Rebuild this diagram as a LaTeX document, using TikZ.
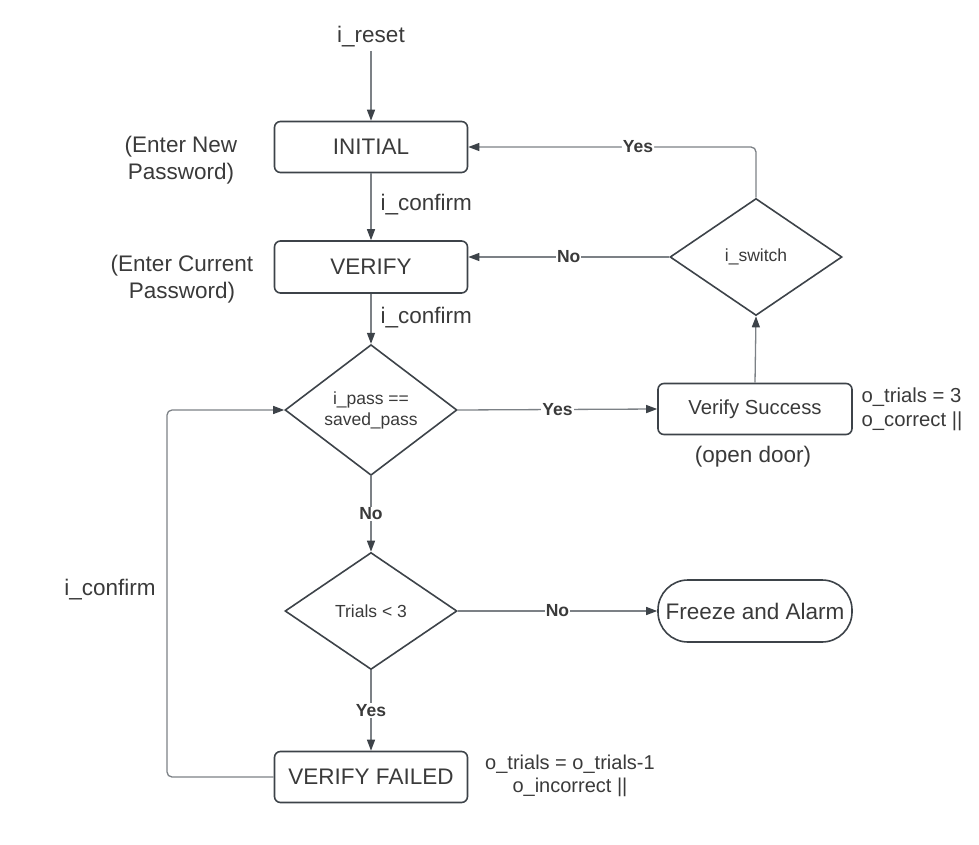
\documentclass[tikz,border=0pt]{standalone}
\usepackage{fontspec}
\setmainfont{Liberation Sans}
\usetikzlibrary{shapes.geometric,arrows.meta}
\definecolor{txt}{HTML}{3A3A3A}
\definecolor{edge}{HTML}{3D4349}
\definecolor{conn}{HTML}{7C8186}
\begin{document}
\begin{tikzpicture}[x=1pt,y=-1pt,
  every node/.style={text=txt},
  state/.style={draw=edge, line width=1.6pt, rounded corners=6pt,
    minimum width=193pt, minimum height=51pt,
    font=\fontsize{22.5}{26}\selectfont},
  decision/.style={draw=edge, line width=1.6pt, diamond, inner sep=0pt,
    minimum width=172pt, minimum height=117pt, align=center,
    font=\fontsize{17.5}{21}\selectfont},
  terminal/.style={draw=edge, line width=1.6pt, rounded corners=30pt,
    minimum width=194pt, minimum height=62pt,
    font=\fontsize{22.5}{26}\selectfont},
  note/.style={font=\fontsize{22.5}{27}\selectfont, align=center},
  conn/.style={draw=conn, line width=1.3pt,
    -{Triangle[length=11pt,width=8pt,color=edge]}},
  tag/.style={font=\fontsize{17.5}{19}\selectfont\bfseries, fill=white,
    inner sep=1pt}
]
\useasboundingbox (0,0) rectangle (979,845);

% states
\node[note] (reset) at (371,37) {i\_reset};
\node[state] (init) at (371,147) {INITIAL};
\node[state, minimum height=52pt] (verify) at (371,267) {VERIFY};
\node[decision] (check) at (371,410) {i\_pass ==\\saved\_pass};
\node[state, minimum width=194pt, font=\fontsize{20.3}{24}\selectfont]
  (success) at (755,409) {Verify Success};
\node[decision] (switch) at (756,257) {i\_switch};
\node[decision] (trials) at (371,611) {Trials < 3};
\node[terminal] (freeze) at (755,611) {Freeze and Alarm};
\node[state] (failed) at (371,777) {VERIFY FAILED};

% side annotations
\node[note] (newpw) at (181,160) {(Enter New\\Password)};
\node[note] (curpw) at (182,279) {(Enter Current\\Password)};
\node[note, anchor=west] (conf1) at (377,205) {i\_confirm};
\node[note, anchor=west] (conf2) at (377,318) {i\_confirm};
\node[note] (conf3) at (110,590) {i\_confirm};
\node[note, align=left, anchor=west, font=\fontsize{20.3}{24}\selectfont]
  (okout) at (858,409) {o\_trials = 3\\o\_correct ||};
\node[note] (door) at (753,457) {(open door)};
\node[note, font=\fontsize{20}{23}\selectfont]
  (failout) at (570,776) {o\_trials = o\_trials-1\\o\_incorrect ||};

% connectors
\coordinate (loop) at (167,590);
\draw[conn] (reset.south -| init.north) -- (init.north);
\draw[conn] (init) -- (verify);
\draw[conn] (verify) -- (check);
\draw[conn] (check.east) -- node[tag] {Yes} (success.west);
\draw[conn] (success.north) -- (switch.south);
\draw[conn, rounded corners=5pt] (switch.north) |- node[tag, pos=0.705] {Yes} (init.east);
\draw[conn] (switch.west) -- node[tag] {No} (switch.west -| verify.east);
\draw[conn] (check.south) -- node[tag] {No} (trials.north);
\draw[conn] (trials.east) -- node[tag] {No} (freeze.west);
\draw[conn] (trials.south) -- node[tag] {Yes} (failed.north);
\draw[conn, rounded corners=5pt] (failed.west) -| (loop) |- (check.west);
\end{tikzpicture}
\end{document}
